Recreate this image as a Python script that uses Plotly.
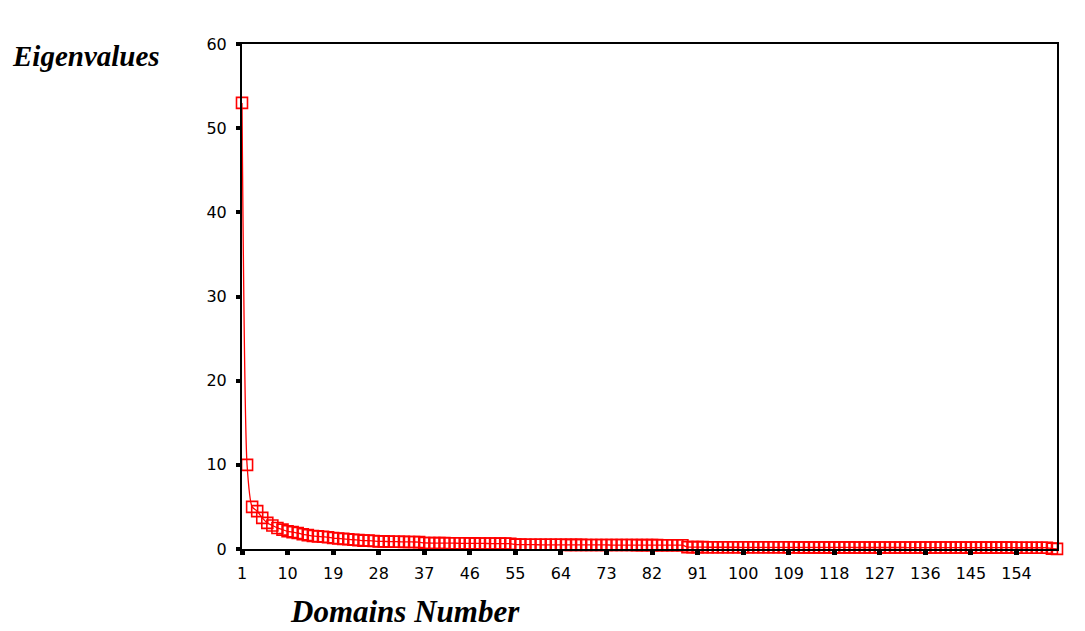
import plotly.graph_objects as go

# Data
domain_numbers = list(range(1, 163))

eig_1_10 = [53.0, 10.0, 5.0, 4.5, 3.7, 3.1, 2.8, 2.5, 2.3, 2.1]
eig_11_20 = [2.0, 1.9, 1.75, 1.65, 1.55, 1.5, 1.45, 1.4, 1.3, 1.25]
eig_21_36 = [1.2, 1.15, 1.1, 1.05, 1.0, 1.0, 0.95, 0.9, 0.9, 0.88,
             0.87, 0.86, 0.85, 0.84, 0.83, 0.82]
eig_37_54 = [0.72, 0.71, 0.7, 0.7, 0.7, 0.69, 0.69, 0.68, 0.68,
             0.67, 0.67, 0.66, 0.66, 0.65, 0.65, 0.64, 0.64, 0.63]
eig_55_88 = [0.52, 0.52, 0.51, 0.51, 0.51, 0.5, 0.5, 0.5, 0.5, 0.5,
             0.49, 0.49, 0.49, 0.49, 0.48, 0.48, 0.48, 0.48, 0.48, 0.47,
             0.47, 0.47, 0.47, 0.47, 0.46, 0.46, 0.46, 0.46, 0.46, 0.45,
             0.45, 0.45, 0.45, 0.45]
eig_89_160 = [0.22, 0.22, 0.22, 0.22, 0.21, 0.21, 0.21, 0.21, 0.21, 0.21,
              0.21, 0.2, 0.2, 0.2, 0.2, 0.2, 0.2, 0.2, 0.2, 0.2,
              0.2, 0.2, 0.19, 0.19, 0.19, 0.19, 0.19, 0.19, 0.19, 0.19,
              0.19, 0.19, 0.19, 0.18, 0.18, 0.18, 0.18, 0.18, 0.18, 0.18,
              0.18, 0.18, 0.18, 0.18, 0.17, 0.17, 0.17, 0.17, 0.17, 0.17,
              0.17, 0.17, 0.17, 0.17, 0.17, 0.16, 0.16, 0.16, 0.16, 0.16,
              0.16, 0.16, 0.16, 0.16, 0.16, 0.15, 0.15, 0.15, 0.15, 0.15,
              0.15, 0.15]
eig_161_162 = [0.05, 0.02]

eigenvalues = eig_1_10 + eig_11_20 + eig_21_36 + eig_37_54 + eig_55_88 + eig_89_160 + eig_161_162

x_tick_values = [1, 10, 19, 28, 37, 46, 55, 64, 73, 82, 91, 100, 109, 118, 127, 136, 145, 154]
y_tick_values = [0, 10, 20, 30, 40, 50, 60]

fig = go.Figure()
fig.add_trace(go.Scatter(
    x=domain_numbers,
    y=eigenvalues,
    mode="lines+markers",
    line=dict(color="#ff0000", width=1.3, shape="spline", smoothing=0.6),
    marker=dict(symbol="square-open", size=11, color="#ff0000", line=dict(width=1.6, color="#ff0000")),
    cliponaxis=False,
    showlegend=False,
    hoverinfo="x+y",
))

tick_font = dict(family="DejaVu Sans", size=16, color="#000000")

fig.update_layout(
    width=1085,
    height=631,
    margin=dict(l=242, r=28, t=44, b=82, pad=0),
    paper_bgcolor="#ffffff",
    plot_bgcolor="#ffffff",
    xaxis=dict(
        range=[1, 162],
        tickmode="array",
        tickvals=x_tick_values,
        ticktext=[str(v) for v in x_tick_values],
        ticks="outside",
        ticklen=4,
        tickwidth=5,
        tickcolor="#000000",
        showline=True,
        linecolor="#000000",
        linewidth=2,
        mirror=True,
        showgrid=False,
        zeroline=False,
        tickfont=tick_font,
        ticklabelstandoff=5,
    ),
    yaxis=dict(
        range=[0, 60],
        tickmode="array",
        tickvals=y_tick_values,
        ticktext=[str(v) for v in y_tick_values],
        ticks="outside",
        ticklen=4,
        tickwidth=4,
        tickcolor="#000000",
        showline=True,
        linecolor="#000000",
        linewidth=2,
        mirror=True,
        showgrid=False,
        zeroline=False,
        tickfont=tick_font,
        ticklabelstandoff=6,
    ),
    annotations=[
        dict(
            text="<b><i>Eigenvalues</i></b>",
            xref="paper", yref="paper",
            x=-242 / 815, y=1 - 12 / 505,
            xanchor="left", yanchor="middle",
            xshift=10,
            showarrow=False,
            font=dict(family="Liberation Serif", size=29, color="#000000"),
        ),
        dict(
            text="<b><i>Domains Number</i></b>",
            xref="paper", yref="paper",
            x=(405 - 242) / 815, y=0,
            xanchor="center", yanchor="middle",
            yshift=-62,
            showarrow=False,
            font=dict(family="Liberation Serif", size=31, color="#000000"),
        ),
    ],
)

fig.write_html("out.html", config={"displayModeBar": False},
               post_script="document.body.style.margin='0';")
